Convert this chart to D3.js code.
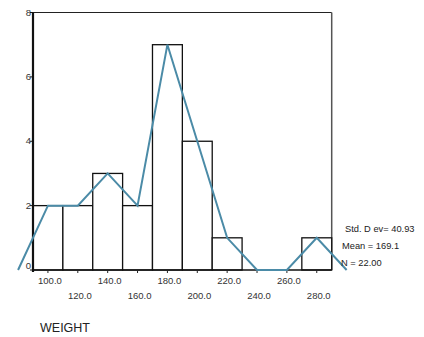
<!DOCTYPE html>
<html><head><meta charset="utf-8">
<script src="https://cdn.jsdelivr.net/npm/d3@7"></script>
<style>body{margin:0;background:#fff}svg{display:block}text{font-family:"Liberation Sans",Arial,sans-serif}</style>
</head><body>
<svg id="c" width="424" height="337"></svg>
<script>
const binCenters = [100,120,140,160,180,200,220,240,260,280];
const counts = [2,2,3,2,7,4,1,0,0,1];
const polyX = [80,100,120,140,160,180,200,220,240,260,280,300];
const polyY = [0,2,2,3,2,7,4,1,0,0,1,0];
const yTicks = [0,2,4,6,8];
const xTickLabels = ["100.0","120.0","140.0","160.0","180.0","200.0","220.0","240.0","260.0","280.0"];
const stats = ["Std. D ev= 40.93","Mean = 169.1","N = 22.00"];
const axisTitle = "WEIGHT";

const svg = d3.select("#c");
const x = d3.scaleLinear().domain([90,290]).range([33,331.7]);
const y = d3.scaleLinear().domain([0,8]).range([270,12.5]);
const bw = 20;

// frame top/right
svg.append("line").attr("x1",x(90)).attr("x2",x(290)).attr("y1",y(8)).attr("y2",y(8)).attr("stroke","#222").attr("stroke-width",1.2);
svg.append("line").attr("x1",x(290)).attr("x2",x(290)).attr("y1",y(8)).attr("y2",y(0)).attr("stroke","#555").attr("stroke-width",1.5);

// bars
svg.selectAll("rect.bar").data(binCenters.map((c,i)=>({c,n:counts[i]})).filter(d=>d.n>0))
  .enter().append("rect")
  .attr("x",d=>x(d.c-bw/2)).attr("width",d=>x(d.c+bw/2)-x(d.c-bw/2))
  .attr("y",d=>y(d.n)).attr("height",d=>y(0)-y(d.n))
  .attr("fill","#fff").attr("stroke","#111").attr("stroke-width",1.3);

// bottom axis line
svg.append("line").attr("x1",x(90)).attr("x2",x(290)).attr("y1",y(0)).attr("y2",y(0)).attr("stroke","#111").attr("stroke-width",1.5);
// x tick marks
svg.selectAll("line.xt").data(binCenters).enter().append("line")
  .attr("x1",d=>x(d)).attr("x2",d=>x(d)).attr("y1",y(0)+1).attr("y2",y(0)+3).attr("stroke","#222").attr("stroke-width",1);
svg.selectAll("text.xl").data(binCenters).enter().append("text")
  .attr("x",d=>x(d)+2).attr("y",(d,i)=>i%2===0?284:299)
  .attr("text-anchor","middle").attr("font-size",9.5).attr("fill","#333")
  .text((d,i)=>xTickLabels[i]);

// left axis
svg.append("line").attr("x1",x(90)).attr("x2",x(90)).attr("y1",y(8)).attr("y2",y(0)+2).attr("stroke","#111").attr("stroke-width",2.2);
svg.selectAll("line.yt").data(yTicks).enter().append("line")
  .attr("x1",x(90)-3).attr("x2",x(90)).attr("y1",d=>y(d)).attr("y2",d=>y(d)).attr("stroke","#111").attr("stroke-width",1);
svg.selectAll("text.yl").data(yTicks).enter().append("text")
  .attr("x",x(90)-2).attr("y",d=>y(d)+(d===0?-1:3)).attr("text-anchor","end")
  .attr("font-size",9.5).attr("fill","#333").text(d=>d);

// polygon
svg.append("path").datum(polyX.map((v,i)=>[v,polyY[i]]))
  .attr("d",d3.line().x(d=>x(d[0])).y(d=>y(d[1])))
  .attr("fill","none").attr("stroke","#4b8ba7").attr("stroke-width",2);

// stats
const sx = [345,342,341], sy = [232,249,266];
svg.selectAll("text.st").data(stats).enter().append("text")
  .attr("x",(d,i)=>sx[i]).attr("y",(d,i)=>sy[i]).attr("font-size",9.3).attr("fill","#222").text(d=>d);

svg.append("text").attr("x",40).attr("y",332).attr("font-size",12.5).attr("fill","#222").text(axisTitle);
</script>
</body></html>
